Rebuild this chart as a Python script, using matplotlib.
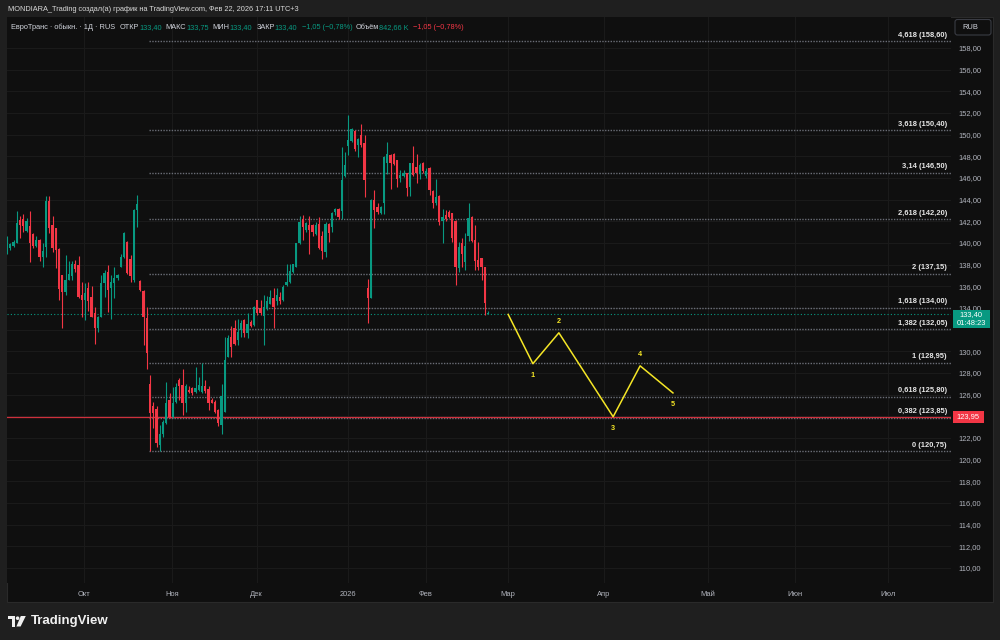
import matplotlib
matplotlib.use("Agg")
import matplotlib.pyplot as plt
import numpy as np
from matplotlib.patches import Rectangle, FancyBboxPatch, Polygon, Circle
from matplotlib.transforms import Affine2D, blended_transform_factory
from matplotlib.ticker import FuncFormatter

plt.rcParams['font.family'] = ['Liberation Sans', 'DejaVu Sans']

# daily candles, EuroTrans
opens = [139.1, 139.5, 139.7, 140.0, 142.1, 142.2, 141.1, 141.6, 140.8, 139.7,
         140.3, 138.7, 139.65, 143.9, 141.65, 141.35, 139.4, 137.0, 135.5, 136.6,
         136.95, 138.1, 137.96, 135.2, 134.7, 135.8, 135.0, 133.5, 132.1, 133.2,
         136.3, 137.35, 135.8, 136.3, 136.75, 137.8, 138.7, 140.1, 138.5, 136.6,
         143.0, 136.45, 135.55, 133.05, 127.0, 124.95, 124.7, 121.35, 122.4, 123.35,
         125.5, 123.9, 125.35, 127.3, 126.9, 125.2, 126.4, 126.6, 126.25, 126.4,
         126.25, 126.75, 126.5, 125.5, 125.35, 124.6, 123.2, 124.4, 129.5, 131.35,
         132.1, 131.05, 132.0, 132.9, 131.65, 132.7, 132.4, 134.7, 134.0, 133.25,
         134.0, 134.4, 134.9, 134.6, 135.05, 134.75, 136.1, 136.35, 137.35, 137.8,
         139.95, 142.2, 141.15, 141.65, 141.65, 140.8, 141.75, 140.65, 139.2, 141.75,
         141.45, 142.85, 143.1, 142.98, 146.2, 148.95, 149.45, 150.3, 149.0, 149.95,
         149.2, 135.8, 134.9, 143.97, 143.3, 142.8, 143.65, 147.35, 148.1, 148.2,
         147.66, 145.97, 146.2, 146.43, 145.2, 147.35, 146.98, 146.37, 147.4, 146.18,
         146.9, 144.83, 143.7, 144.34, 142.06, 142.6, 142.9, 142.74, 142.06, 137.66,
         140.03, 138.28, 140.65, 142.37, 140.28, 138.43, 138.6, 137.75, 133.40]
highs = [140.6, 140.0, 140.3, 142.95, 142.5, 142.7, 142.3, 142.95, 140.9, 140.6,
         140.4, 140.0, 144.3, 144.3, 142.5, 141.4, 139.5, 137.05, 138.9, 138.3,
         138.3, 138.4, 138.8, 136.4, 136.3, 136.4, 136.0, 134.1, 133.25, 137.0,
         137.5, 137.96, 137.0, 137.75, 137.1, 139.0, 141.0, 140.2, 138.9, 143.1,
         144.4, 136.6, 135.65, 134.1, 127.8, 125.35, 124.9, 123.2, 123.65, 127.2,
         126.1, 126.7, 127.1, 127.5, 128.4, 127.0, 126.8, 126.7, 128.5, 127.65,
         128.9, 127.35, 126.75, 125.65, 125.5, 124.65, 127.0, 131.35, 131.5, 132.3,
         132.9, 132.95, 132.9, 132.95, 133.5, 132.9, 134.2, 134.75, 134.75, 135.2,
         135.1, 135.65, 135.8, 135.8, 135.5, 136.1, 138.1, 138.1, 138.1, 140.0,
         142.45, 142.6, 141.95, 142.5, 141.75, 141.95, 142.4, 141.1, 141.95, 141.8,
         142.9, 143.2, 143.2, 148.9, 148.4, 151.8, 150.6, 150.4, 149.65, 150.95,
         149.95, 136.7, 144.1, 144.9, 143.7, 143.4, 148.0, 149.3, 148.2, 148.3,
         147.7, 146.7, 146.7, 146.5, 147.4, 148.95, 148.2, 147.35, 147.5, 146.9,
         146.98, 144.9, 145.9, 144.43, 143.1, 143.0, 143.0, 142.8, 142.12, 140.12,
         140.43, 140.95, 143.72, 142.5, 141.66, 140.12, 138.6, 137.8, 133.75]
lows = [139.0, 139.35, 139.65, 140.0, 140.5, 141.0, 141.0, 138.2, 139.5, 139.65,
        138.3, 137.75, 138.7, 140.9, 139.2, 137.65, 134.7, 132.1, 135.2, 136.55,
        136.6, 137.35, 134.9, 133.2, 132.9, 133.7, 133.15, 130.7, 131.8, 133.15,
        135.0, 133.65, 133.0, 134.9, 136.6, 137.75, 138.6, 137.1, 136.4, 136.4,
        141.5, 135.6, 130.6, 128.4, 120.75, 122.9, 121.2, 120.75, 122.1, 123.3,
        123.8, 123.8, 125.25, 125.5, 124.1, 124.4, 126.1, 126.0, 126.1, 126.3,
        126.1, 126.1, 124.6, 125.2, 124.27, 123.05, 122.4, 124.4, 129.45, 129.5,
        130.6, 130.6, 131.35, 131.35, 131.2, 132.2, 132.35, 133.35, 133.35, 130.6,
        133.8, 134.35, 132.1, 134.3, 134.4, 134.6, 136.0, 136.3, 137.25, 137.75,
        139.9, 140.3, 141.05, 139.0, 140.65, 140.7, 139.4, 138.5, 138.7, 140.1,
        141.05, 142.6, 142.2, 142.2, 146.1, 148.1, 149.35, 148.5, 147.95, 148.9,
        144.2, 132.65, 134.9, 141.35, 142.7, 142.7, 142.7, 146.4, 144.95, 147.2,
        145.2, 145.6, 146.06, 144.3, 144.3, 146.2, 145.57, 145.9, 146.5, 145.97,
        144.43, 143.2, 143.5, 141.66, 140.0, 142.06, 142.28, 140.12, 136.12, 137.35,
        137.8, 137.5, 140.2, 140.12, 137.5, 137.5, 136.58, 133.35, 133.40]
closes = [140.3, 139.9, 140.1, 141.8, 141.65, 141.6, 142.0, 140.0, 139.7, 140.3,
          138.7, 139.3, 143.9, 141.35, 139.5, 139.35, 135.7, 135.5, 136.6, 137.1,
          138.05, 137.6, 135.0, 134.7, 135.35, 134.6, 133.2, 132.1, 133.2, 136.3,
          137.2, 135.65, 136.4, 136.8, 137.05, 138.7, 140.95, 137.2, 136.95, 143.0,
          143.6, 135.65, 133.2, 129.8, 124.3, 124.27, 121.5, 122.4, 123.5, 125.2,
          123.96, 125.25, 126.7, 126.8, 125.2, 126.8, 126.2, 126.1, 126.6, 126.9,
          126.75, 126.35, 125.2, 125.25, 124.4, 123.35, 125.9, 129.2, 131.2, 130.4,
          130.7, 131.8, 132.6, 131.65, 132.5, 132.3, 134.1, 133.5, 133.5, 134.1,
          134.6, 135.05, 134.1, 135.2, 134.6, 135.95, 136.35, 137.45, 138.05, 139.95,
          141.9, 141.45, 141.8, 141.2, 141.05, 141.65, 139.5, 139.3, 141.75, 140.95,
          142.8, 143.1, 142.4, 145.8, 147.2, 149.5, 150.5, 148.65, 149.55, 149.05,
          145.8, 134.9, 143.97, 143.0, 142.9, 143.3, 147.9, 148.2, 147.35, 147.3,
          145.9, 146.3, 146.5, 145.1, 147.4, 146.3, 146.43, 147.2, 146.68, 146.68,
          144.9, 143.7, 144.28, 141.97, 142.43, 142.2, 142.37, 140.43, 137.8, 139.66,
          138.98, 139.72, 142.28, 140.2, 138.37, 137.75, 137.8, 134.45, 133.40]

month_labels = ["Окт", "Ноя", "Дек", "2026", "Фев", "Мар", "Апр", "Май", "Июн", "Июл"]
month_bars = [23.8, 50.9, 76.8, 104.8, 128.8, 154.2, 183.7, 215.7, 242.5, 271.1]

fib_ratios = ["4,618", "3,618", "3,14", "2,618", "2", "1,618", "1,382", "1",
              "0,618", "0,382", "0"]
fib_prices = [158.60, 150.40, 146.50, 142.20, 137.15, 134.00, 132.05, 128.95,
              125.80, 123.85, 120.75]
fib_start_bar = 43.7

wave_labels = ["", "1", "2", "3", "4", "5"]
wave_bars = [154.2, 161.8, 169.8, 186.5, 194.8, 204.9]
wave_prices = [133.40, 128.85, 131.70, 123.95, 128.65, 126.15]

last_price = 133.40
countdown = "01:48:23"
hline_price = 123.95
hidden_ticks = [124, 132]  # covered by the price tags

UP = "#089981"
DOWN = "#f23645"
TXT = "#d1d4dc"
AXIS_TXT = "#b2b5be"
BG = "#0f0f0f"
FRAME = "#1f1f1f"
GRID = "#1a1a1a"
YELLOW = "#f5e626"


def rub(v):
    return f"{v:.2f}".replace(".", ",")


fig = plt.figure(figsize=(10, 6.4), dpi=100, facecolor=FRAME)
# pixel coords (origin top-left) for frame decorations
px = Affine2D().scale(1 / 1000, -1 / 640).translate(0, 1) + fig.transFigure

fig.patches.append(Rectangle((7, 17), 986, 585, transform=px, fc=BG,
                             ec="#2a2a2a", lw=0.8, zorder=-10))

ax = fig.add_axes([7 / 1000, 1 - 583 / 640, 944 / 1000, 566 / 640])
ax.set_facecolor(BG)
ax.set_xlim(0, 290.45)
ax.set_ylim(108.6, 160.86)
for s in ax.spines.values():
    s.set_visible(False)

ax.set_yticks(np.arange(110, 159, 2))
ax.yaxis.set_major_formatter(
    FuncFormatter(lambda v, _: "" if round(v) in hidden_ticks else rub(v)))
ax.yaxis.tick_right()
ax.tick_params(axis="y", length=0, pad=5, labelsize=5.4, colors=AXIS_TXT)
ax.set_xticks(month_bars)
ax.set_xticklabels(month_labels)
ax.tick_params(axis="x", length=0, pad=6, labelsize=5.4, colors=AXIS_TXT)
ax.grid(color=GRID, lw=0.8, zorder=0)

# candles
idx = np.arange(len(closes))
o = np.array(opens)
c = np.array(closes)
colors = np.where(c >= o, UP, DOWN)
ax.vlines(idx, lows, highs, colors=colors, lw=0.8, zorder=3)
body_lo = np.minimum(o, c)
body_h = np.maximum(np.abs(c - o), 0.09)
ax.bar(idx, body_h, bottom=body_lo, width=0.64, color=colors, lw=0, zorder=4)

# fib extension levels
blend = blended_transform_factory(ax.transAxes, ax.transData)
ax.hlines(fib_prices, fib_start_bar, ax.get_xlim()[1], colors="#6a6d76",
          linestyles=(0, (1, 1)), lw=1, zorder=2)
for r, p in zip(fib_ratios, fib_prices):
    ax.annotate(f"{r} ({rub(p)})", xy=(0.9958, p), xycoords=blend,
                xytext=(0, 3.2), textcoords="offset points", ha="right",
                va="baseline", fontsize=5.4, fontweight="bold", color="#e6e6e6",
                zorder=6)

# last price and user horizontal line
ax.axhline(last_price, color=UP, lw=0.8, ls=(0, (1, 2)), zorder=2)
ax.axhline(hline_price, color=DOWN, lw=0.9, alpha=0.85, zorder=2)

# elliott wave projection
ax.plot(wave_bars, wave_prices, color=YELLOW, lw=1.1, zorder=5)
for i, (lab, b, p) in enumerate(zip(wave_labels, wave_bars, wave_prices)):
    if not lab:
        continue
    below = i % 2 == 1
    ax.annotate(lab, xy=(b, p), xytext=(0, -8.5 if below else 8.5),
                textcoords="offset points", ha="center", va="center",
                fontsize=5.2, fontweight="bold", color=YELLOW, zorder=6)


def price_px(p):
    return 640 - ax.transData.transform((0, p))[1]


# price tags on the axis
y_last = price_px(last_price)
fig.patches.append(Rectangle((952.5, y_last - 4.5), 37.5, 18.5, transform=px,
                             fc=UP, ec="none", zorder=5))
fig.text(971 / 1000, 1 - (y_last + 0.3) / 640, rub(last_price), ha="center",
         va="center", fontsize=5.4, color="white", zorder=6)
fig.text(971 / 1000, 1 - (y_last + 9) / 640, countdown, ha="center",
         va="center", fontsize=5.4, color="white", zorder=6)

y_h = price_px(hline_price)
fig.patches.append(Rectangle((952.5, y_h - 6), 31, 12, transform=px,
                             fc=DOWN, ec="none", zorder=5))
fig.text(968 / 1000, 1 - y_h / 640, rub(hline_price), ha="center",
         va="center", fontsize=5.4, color="white", zorder=6)

# currency box
fig.patches.append(FancyBboxPatch((955, 19.5), 36, 15.5, transform=px,
                                  boxstyle="round,pad=0,rounding_size=2.5",
                                  fc=BG, ec="#3a3c44", lw=0.8, zorder=5))
fig.text(962 / 1000, 1 - 27.5 / 640, "RUB", ha="left", va="center",
         fontsize=5.4, color=TXT, zorder=6)

# header
fig.text(8 / 1000, 1 - 9.5 / 640,
         "MONDIARA_Trading создал(а) график на TradingView.com, Фев 22, 2026 17:11 UTC+3",
         ha="left", va="center", fontsize=5.3, color="#d9d9d9")

# legend line: coloured segments on one baseline, measured with the renderer
segments = [
    ("ЕвроТранс · обыкн. · 1Д · RUS", TXT, 0),
    ("ОТКР", TXT, 4.5), ("133,40", UP, 0),
    ("МАКС", TXT, 4), ("133,75", UP, 0),
    ("МИН", TXT, 4), ("133,40", UP, 0),
    ("ЗАКР", TXT, 4), ("133,40", UP, 0),
    ("−1,05 (−0,78%)", UP, 4),
    ("Объём", TXT, 4), ("842,66 K", UP, 0),
    ("−1,05 (−0,78%)", DOWN, 4),
]
renderer = fig.canvas.get_renderer()
x_cur = 11.0
for txt, col, gap in segments:
    x_cur += gap
    t = fig.text(x_cur / 1000, 1 - 29 / 640, txt, ha="left", va="baseline",
                 fontsize=5.3, color=col)
    x_cur += t.get_window_extent(renderer).width

# TradingView logo
logo = "#f0f0f0"
fig.patches.append(Polygon([(7.5, 616), (15, 616), (15, 626.5), (11.7, 626.5),
                            (11.7, 619.4), (7.5, 619.4)], closed=True,
                           transform=px, fc=logo, ec="none"))
fig.patches.append(Circle((17.6, 618.2), 1.8, transform=px, fc=logo, ec="none"))
fig.patches.append(Polygon([(20.8, 616), (25.8, 616), (20.6, 626.5),
                            (16.4, 626.5)], closed=True, transform=px,
                           fc=logo, ec="none"))
fig.text(31 / 1000, 1 - 621 / 640, "TradingView", ha="left", va="center",
         fontsize=9.5, fontweight="bold", color=logo)

fig.savefig("out.png", dpi=100, facecolor=FRAME)
